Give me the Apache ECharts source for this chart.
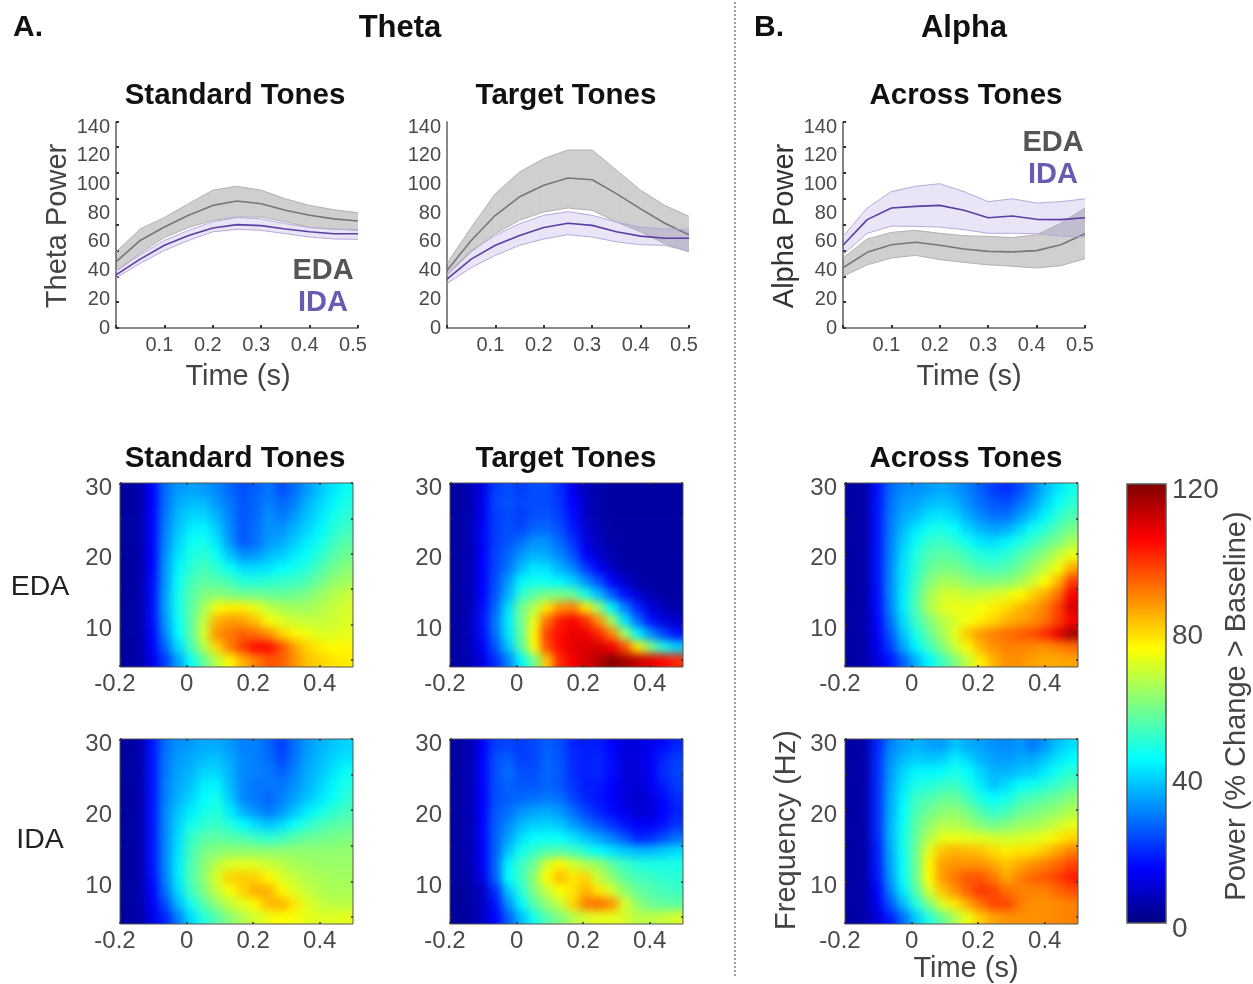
<!DOCTYPE html>
<html><head><meta charset="utf-8">
<style>
html,body{margin:0;padding:0;background:#fff}
#chart{width:1253px;height:984px}
</style>
<script src="https://cdn.jsdelivr.net/npm/echarts@6/dist/echarts.min.js"></script>
</head><body><div id="chart"></div>
<script>
// ---------- line panels: time points and estimated values ----------
const lineTimes=[0,0.05,0.1,0.15,0.2,0.25,0.3,0.35,0.4,0.45,0.5];
const stdEdaMean=[46,61,70.4,78.5,85.4,88.5,86.6,82,78.5,76,74.5];
const stdEdaHigh=[53,69,77,86.6,96,98.7,96,90,85.4,82.4,80.3];
const stdEdaLow=[40,52,63,70,75,77.3,77.3,74,70,69,68];
const stdIdaMean=[37,48,57.6,64.5,69.7,72,71.3,69,67,65.7,65.7];
const stdIdaHigh=[39.7,51,61,68,74,77,76,72.7,70,68.7,68.7];
const stdIdaLow=[35,45,54,61,67,68.7,68,65.7,63.4,62,61.8];
const tgtEdaMean=[40,61,78.5,91.4,99.4,104.5,103.3,93.6,83,73,65];
const tgtEdaHigh=[45,70,93.6,108.7,118,124,124,110,96,85.4,77.8];
const tgtEdaLow=[36.7,53,65.7,75,80.8,83.6,82,73.8,67,58.7,53];
const tgtIdaMean=[34,48,57.6,64.5,70,73,71.5,67,64,62.5,62.5];
const tgtIdaHigh=[38,54,64.5,72.7,78.5,81,78.5,73.8,70.3,69,68.7];
const tgtIdaLow=[31,42,50.6,57.6,62,65,63.4,60,58,57.6,53.4];
const acrEdaMean=[42,52.7,58,59.7,57.6,55,53.4,53,53.9,58,65.7];
const acrEdaHigh=[48.8,62,66.6,68,66,64.3,63.8,63,65,73,83.6];
const acrEdaLow=[36,44,48.8,50.6,47.6,45.7,44,43,41.8,43.4,48.3];
const acrIdaMean=[57.6,75.5,83.6,84.7,85.4,82,76.8,78,75.7,75.5,76.8];
const acrIdaHigh=[63.8,83.6,95,98.7,100.5,95,88,90,87,88,90];
const acrIdaLow=[51,66,71,70.8,70.3,68.5,66,66,65.7,64,63.4];
const powerTickLabels=[0,20,40,60,80,100,120,140];
const powerTickMarks=[0,18,36,54,72,90,108,126,143.5];
const timeTickLabels=[0.1,0.2,0.3,0.4,0.5];
// ---------- time-frequency panels ----------
const timeBins=[-0.18,-0.14,-0.1,-0.06,-0.03,0.01,0.05,0.09,0.13,0.17,0.21,0.25,0.29,0.33,0.36,0.4,0.44,0.48];
const freqBins=[29.1,27.2,25.4,23.5,21.6,19.8,17.9,16,14.2,12.3,10.4,8.6,6.7,4.9];
const heatTimeTicks=[-0.2,0,0.2,0.4];
const heatFreqLabels=[10,20,30];
const heatFreqTicks=[5,10,15,20,25,30];
const colorbarLabels=[0,40,80,120];
const edaStandard=[
[4,5,15,28,33,34,33,31,27,24,26,29,24,28,33,38,42,46],
[4,5,15,28,35,37,37,33,29,25,27,30,27,30,36,40,44,48],
[4,5,15,29,37,40,40,36,30,25,27,32,29,33,38,42,47,50],
[4,5,15,30,38,43,44,39,31,25,28,32,32,36,40,44,49,52],
[4,5,15,31,40,46,47,42,33,25,28,33,35,39,43,47,52,55],
[4,5,15,32,42,48,50,46,38,32,33,37,39,43,46,50,55,58],
[4,5,15,33,44,50,53,50,46,41,41,42,45,47,50,54,58,61],
[4,5,16,33,46,53,56,55,53,49,49,50,51,52,54,58,62,64],
[4,5,16,34,47,55,60,61,60,58,58,57,57,58,60,63,66,68],
[4,5,16,34,47,56,64,74,77,77,72,68,65,64,64,66,68,70],
[4,5,16,33,46,56,68,84,87,86,82,74,71,69,68,68,69,71],
[4,5,15,31,45,56,70,88,91,94,92,88,80,76,73,71,71,72],
[4,5,14,27,41,53,66,80,90,98,104,104,96,86,80,77,75,76],
[4,5,13,22,34,46,57,67,76,84,90,95,94,88,82,80,78,77]];
const edaTarget=[
[4,6,12,22,24,22,24,24,20,13,7,5,4,4,4,4,4,4],
[4,6,13,23,25,23,24,24,21,15,8,5,4,4,4,4,4,4],
[4,6,13,22,24,22,24,25,22,16,8,5,4,4,4,4,4,4],
[4,6,14,22,24,23,27,27,24,18,10,6,4,4,4,4,4,4],
[4,6,14,22,25,28,32,32,27,21,12,7,5,4,4,4,4,4],
[4,6,15,23,27,33,36,35,31,25,15,9,6,4,4,4,4,4],
[4,6,15,23,29,37,42,41,36,31,22,14,8,5,4,4,4,4],
[4,6,15,24,33,44,47,46,44,40,32,24,15,9,5,4,4,4],
[4,6,15,25,36,50,56,59,59,57,48,37,26,17,10,6,4,4],
[4,6,16,27,41,58,66,78,88,90,78,62,44,30,19,11,7,5],
[4,7,17,29,43,58,72,92,102,106,100,88,64,42,28,17,11,8],
[4,7,16,28,42,57,76,98,104,107,107,101,90,64,44,32,23,17],
[4,7,14,25,38,55,74,96,104,108,109,110,106,96,78,60,48,40],
[4,6,12,20,30,44,58,82,100,106,110,114,119,116,112,108,104,100]];
const edaAcross=[
[4,5,17,27,31,32,33,35,33,30,26,22,20,24,30,37,42,47],
[4,5,17,28,33,34,37,38,36,32,28,25,24,28,33,40,46,50],
[4,5,17,29,35,37,41,42,40,35,31,28,28,33,38,44,50,54],
[4,5,17,29,37,42,46,48,45,40,36,34,35,40,46,50,55,59],
[4,5,17,30,39,46,51,52,50,46,42,41,44,48,52,56,60,65],
[4,5,17,30,41,49,54,56,55,52,49,48,50,54,58,62,68,73],
[4,5,17,31,42,50,57,59,59,56,54,53,55,58,63,68,74,85],
[4,5,17,31,42,52,60,64,64,61,60,60,61,64,69,75,84,98],
[4,5,16,31,43,54,64,69,70,68,69,70,72,75,80,85,92,106],
[4,5,16,30,43,54,65,71,73,72,74,77,79,83,86,90,98,110],
[4,5,15,28,41,52,60,66,70,74,77,80,84,86,88,92,98,106],
[4,5,14,25,38,48,57,64,72,82,87,90,92,94,96,100,108,116],
[4,5,13,22,34,44,52,60,68,76,84,88,90,90,89,88,90,92],
[4,5,11,17,26,36,44,52,60,68,77,84,88,88,86,85,85,86]];
const idaStandard=[
[4,5,17,28,32,33,35,35,33,30,30,27,22,28,33,36,38,40],
[4,5,17,29,33,35,37,38,35,31,30,28,23,29,34,37,40,42],
[4,5,17,29,34,36,40,40,36,31,30,29,26,30,35,38,42,46],
[4,5,17,30,35,38,43,44,37,31,29,29,29,32,36,40,44,48],
[4,5,17,30,36,40,45,47,39,31,29,27,30,34,38,42,46,50],
[4,5,17,31,38,43,47,49,43,36,32,29,33,38,43,47,50,53],
[4,5,17,31,40,47,50,52,49,45,41,38,41,46,50,53,55,56],
[4,5,17,31,41,51,55,56,55,54,52,50,52,55,57,58,59,60],
[4,5,17,31,42,53,59,61,62,62,62,62,62,62,62,62,62,62],
[4,5,17,31,43,54,61,67,71,72,71,69,67,65,64,63,63,63],
[4,5,16,30,43,54,62,71,80,81,80,76,71,68,66,65,64,64],
[4,5,15,28,41,52,60,68,74,80,85,84,76,71,68,66,65,65],
[4,5,14,24,37,47,55,62,68,72,76,83,84,78,71,68,67,67],
[4,5,12,19,30,41,49,55,61,66,70,73,75,74,72,71,71,72]];
const idaTarget=[
[4,6,14,22,23,22,23,26,24,19,18,18,15,11,11,13,16,19],
[4,6,15,24,26,22,23,27,25,20,18,19,16,11,11,14,19,22],
[4,6,15,24,28,24,24,27,25,20,18,19,16,11,10,14,20,23],
[4,6,15,24,27,25,25,27,25,21,18,18,15,11,10,13,18,22],
[4,6,15,24,26,27,28,29,28,23,19,17,15,11,9,11,16,20],
[4,6,15,25,28,32,34,35,33,28,23,19,16,13,10,11,15,19],
[4,6,15,26,31,37,39,40,38,34,29,25,21,17,14,14,17,21],
[4,6,15,26,34,41,45,46,45,42,38,34,30,25,19,20,24,28],
[4,6,14,26,38,47,51,54,55,53,49,45,42,39,37,37,39,41],
[4,6,14,27,44,52,58,70,76,70,66,63,56,52,49,48,48,48],
[4,5,12,26,45,52,62,75,83,78,80,68,62,56,53,52,50,50],
[3,4,8,20,38,49,60,68,75,78,84,78,70,62,57,55,53,52],
[3,4,8,17,32,44,55,62,68,80,90,92,88,70,62,58,56,56],
[3,4,8,15,26,37,47,55,60,66,70,72,72,70,67,67,68,70]];
const idaAcross=[
[4,5,19,30,34,36,34,33,38,35,34,32,31,33,29,33,38,41],
[4,5,20,32,37,39,38,39,43,40,36,34,33,35,35,38,42,45],
[4,5,20,33,40,44,44,45,48,45,40,36,36,38,39,43,47,50],
[4,5,20,34,42,48,49,51,52,48,43,38,41,45,47,49,52,55],
[4,5,20,35,44,52,54,57,57,53,48,45,47,52,54,56,58,61],
[4,5,20,35,45,54,58,61,62,59,54,51,53,57,59,61,63,66],
[4,5,20,36,46,56,62,66,66,64,60,58,60,63,64,66,69,72],
[4,5,19,36,47,57,66,72,73,72,71,70,69,70,71,73,77,80],
[4,5,18,35,47,58,72,82,84,83,82,79,77,78,79,82,86,90],
[4,5,18,34,46,58,76,86,88,88,88,85,82,85,88,90,93,97],
[4,5,17,33,46,58,75,87,91,95,95,91,85,90,93,95,98,102],
[4,5,15,30,43,55,70,82,88,94,99,97,92,90,90,90,93,96],
[4,5,13,25,37,49,60,71,78,85,92,97,97,91,88,88,89,90],
[4,5,10,18,28,39,49,57,65,73,81,86,88,88,88,88,89,90]];
const jetColors=['#000080','#0000ff','#0080ff','#00ffff','#80ff80','#ffff00','#ff8000','#ff0000','#800000'];

// ---------- layout ----------
const FONT='"Liberation Sans",Arial,sans-serif';
const linePanels=[
 {l:116,r:358,ticks:true,bands:[[stdEdaMean,stdEdaHigh,stdEdaLow,'eda'],[stdIdaMean,stdIdaHigh,stdIdaLow,'ida']]},
 {l:447,r:689,ticks:false,bands:[[tgtEdaMean,tgtEdaHigh,tgtEdaLow,'eda'],[tgtIdaMean,tgtIdaHigh,tgtIdaLow,'ida']]},
 {l:843,r:1085,ticks:true,bands:[[acrEdaMean,acrEdaHigh,acrEdaLow,'eda'],[acrIdaMean,acrIdaHigh,acrIdaLow,'ida']]}];
const heatPanels=[
 {l:120,r:353,t:483,b:667,m:edaStandard},{l:450,r:683,t:483,b:667,m:edaTarget},{l:845,r:1078,t:483,b:667,m:edaAcross},
 {l:120,r:353,t:739,b:924,m:idaStandard},{l:450,r:683,t:739,b:924,m:idaTarget},{l:845,r:1078,t:739,b:924,m:idaAcross}];
const bandStyle={
 eda:{fill:'rgba(110,110,110,0.33)',mean:'#777777',edge:'#b0b0b0'},
 ida:{fill:'rgba(125,95,200,0.17)',mean:'#5b3fa3',edge:'#b8a8da'}};
const texts=[
 ['A.',28,28,30,'bold','#111',0],['Theta',400,28,31,'bold','#111',0],['B.',769,28,30,'bold','#111',0],['Alpha',964,28,31,'bold','#111',0],
 ['Standard Tones',235,96,29.5,'bold','#111',0],['Target Tones',566,96,29.5,'bold','#111',0],['Across Tones',966,96,29.5,'bold','#111',0],
 ['Standard Tones',235,459,29.5,'bold','#111',0],['Target Tones',566,459,29.5,'bold','#111',0],['Across Tones',966,459,29.5,'bold','#111',0],
 ['Time (s)',238,377,29,'normal','#444',0],['Time (s)',969,377,29,'normal','#444',0],['Time (s)',966,969,29,'normal','#444',0],
 ['Theta Power',58,226,29,'normal','#444',-1],['Alpha Power',785,226,29,'normal','#333',-1],['Frequency (Hz)',787,830,29,'normal','#444',-1],
 ['Power (% Change > Baseline)',1237,706,29,'normal','#444',-1],
 ['EDA',40,587,28.5,'normal','#222',0],['IDA',40,840,28.5,'normal','#222',0],
 ['EDA',323,271,29,'bold','#555',0],['IDA',323,303,29,'bold','#6a5bb0',0],
 ['EDA',1053,143,29,'bold','#555',0],['IDA',1053,175,29,'bold','#6a5bb0',0]];

const grid=[],xAxis=[],yAxis=[],series=[];
function addGrid(l,r,t,b,extra){grid.push(Object.assign({left:l,top:t,width:r-l,height:b-t},extra||{}));return grid.length-1;}
const TICKC='#4a4a4a';

linePanels.forEach(p=>{
 const g=addGrid(p.l,p.r,122,328);
 xAxis.push({gridIndex:g,type:'value',min:0,max:0.5,interval:0.1,splitLine:{show:false},
  axisLine:{onZero:false,lineStyle:{color:'#666',width:1.6}},
  axisTick:{inside:true,length:3,lineStyle:{color:'#333',width:2}},
  axisLabel:{customValues:timeTickLabels,fontFamily:FONT,fontSize:20,color:TICKC,margin:7,padding:[0,10,0,0],formatter:v=>String(v)}});
 const ai=xAxis.length-1;
 yAxis.push({gridIndex:g,type:'value',min:0,max:143.5,splitLine:{show:false},
  axisLine:{show:true,onZero:false,lineStyle:{color:p.ticks?'#666':'#888',width:p.ticks?1.6:2}},
  axisTick:{show:p.ticks,inside:true,length:3,customValues:powerTickMarks,lineStyle:{color:'#333',width:2}},
  axisLabel:{customValues:powerTickLabels,fontFamily:FONT,fontSize:20,color:TICKC,margin:6,showMaxLabel:true}});
 p.bands.forEach(b=>{
  const s=bandStyle[b[3]],hi=b[1],lo=b[2];
  series.push({type:'custom',coordinateSystem:'cartesian2d',xAxisIndex:ai,yAxisIndex:ai,animation:false,silent:true,
   data:lineTimes.map((t,i)=>[t,hi[i]]),encode:{x:0,y:1},
   renderItem:(params,api)=>{const i=params.dataIndex;if(i>=lineTimes.length-1)return null;
    const T=lineTimes;
    return {type:'polygon',shape:{points:[api.coord([T[i],hi[i]]),api.coord([T[i+1],hi[i+1]]),api.coord([T[i+1],lo[i+1]]),api.coord([T[i],lo[i]])]},style:{fill:s.fill}};}});
  [[hi,s.edge,1],[lo,s.edge,1],[b[0],s.mean,1.6]].forEach(e=>{
   series.push({type:'line',xAxisIndex:ai,yAxisIndex:ai,data:lineTimes.map((t,i)=>[t,e[0][i]]),showSymbol:false,symbol:'none',silent:true,animation:false,lineStyle:{color:e[1],width:e[2]}});
  });
 });
});

const heatSeries=[];
const nR=freqBins.length,nC=timeBins.length;
const padX=['pad',...timeBins,'pad'],padY=['pad',...[...freqBins].reverse(),'pad'];
heatPanels.forEach(p=>{
 // hidden, slightly oversized band grid: one clamped band on each side lets the soft edge fall outside the frame
 const cw=(p.r-p.l)/nC,ch=(p.b-p.t)/nR;
 const hg=addGrid(p.l-cw,p.r+cw,p.t-ch,p.b+ch);
 xAxis.push({gridIndex:hg,type:'category',data:padX,show:false});
 yAxis.push({gridIndex:hg,type:'category',data:padY,show:false});
 const ai=xAxis.length-1,data=[];
 for(let i=-1;i<=nR;i++)for(let j=-1;j<=nC;j++){
  const row=p.m[Math.min(nR-1,Math.max(0,i))];
  data.push([j+1,nR-i,row[Math.min(nC-1,Math.max(0,j))]]);
 }
 heatSeries.push(series.length);
 series.push({type:'heatmap',xAxisIndex:ai,yAxisIndex:ai,data,zlevel:-1,silent:true,animation:false,progressive:0,emphasis:{disabled:true}});
 // visible axes, frame and ticks
 const g=addGrid(p.l,p.r,p.t,p.b,{show:true,borderColor:'#555',borderWidth:1,backgroundColor:'transparent'});
 const xBase={gridIndex:g,type:'value',min:-0.2,max:0.5,splitLine:{show:false},axisLine:{show:false,onZero:false}};
 const yBase={gridIndex:g,type:'value',min:4,max:30,splitLine:{show:false},axisLine:{show:false,onZero:false}};
 xAxis.push(Object.assign({},xBase,{position:'bottom',
  axisTick:{inside:true,length:2,customValues:heatTimeTicks,lineStyle:{color:'#333',width:1.5}},
  axisLabel:{customValues:heatTimeTicks,fontFamily:FONT,fontSize:24,color:TICKC,margin:5,
   formatter:v=>v<0?'{n|'+v+'}':String(v),rich:{n:{fontFamily:FONT,fontSize:24,color:TICKC,padding:[0,10,0,0]}}}}));
 yAxis.push(Object.assign({},yBase,{position:'left',
  axisTick:{inside:true,length:2,customValues:heatFreqTicks,lineStyle:{color:'#333',width:1.5}},
  axisLabel:{customValues:heatFreqLabels,fontFamily:FONT,fontSize:24,color:TICKC,margin:8,verticalAlign:'top',lineHeight:10}}));
 xAxis.push(Object.assign({},xBase,{position:'top',axisLabel:{show:false},
  axisTick:{inside:true,length:2,customValues:heatTimeTicks,lineStyle:{color:'#333',width:1.5}}}));
 yAxis.push(Object.assign({},yBase,{position:'right',axisLabel:{show:false},
  axisTick:{inside:true,length:2,customValues:heatFreqTicks,lineStyle:{color:'#333',width:1.5}}}));
});

// colour bar scale
const cb=addGrid(1127,1166,484,923,{show:true,borderColor:'#555',borderWidth:1.5,backgroundColor:'transparent',z:20});
xAxis.push({gridIndex:cb,type:'value',min:0,max:1,show:false});
yAxis.push({gridIndex:cb,type:'value',min:0,max:120,position:'right',splitLine:{show:false},axisLine:{show:false},axisTick:{show:false},
 axisLabel:{customValues:colorbarLabels,fontFamily:FONT,fontSize:28,color:TICKC,margin:6,verticalAlign:'top',lineHeight:12}});

const graphic=texts.map(t=>({type:'text',x:t[1],y:t[2],rotation:t[6]?Math.PI/2:0,silent:true,
 style:{text:t[0],font:t[4]+' '+t[3]+'px '+FONT,fill:t[5],textAlign:'center',textVerticalAlign:'middle'}}));
graphic.push({type:'line',silent:true,shape:{x1:735,y1:2,x2:735,y2:978},style:{stroke:'#444',lineWidth:1,lineDash:[2,2]}});

// soften only the heat-map layer, keeping it inside each frame
const clip=heatPanels.map(p=>`M${p.l} ${p.t}H${p.r}V${p.b}H${p.l}Z`).join(' ');
const st=document.createElement('style');
st.textContent=`#chart canvas{filter:blur(.4px)}#chart canvas:first-child{filter:blur(4px);clip-path:path('${clip}')}`;
document.head.appendChild(st);

const chart=echarts.init(document.getElementById('chart'),null,{renderer:'canvas'});
chart.setOption({animation:false,tooltip:{show:false},grid,xAxis,yAxis,series,graphic:{elements:graphic},
 visualMap:{type:'continuous',min:0,max:120,seriesIndex:heatSeries,dimension:2,calculable:false,show:true,
  left:1127,top:484,itemWidth:39,itemHeight:439,padding:0,inRange:{color:jetColors},z:5}});
</script></body></html>
